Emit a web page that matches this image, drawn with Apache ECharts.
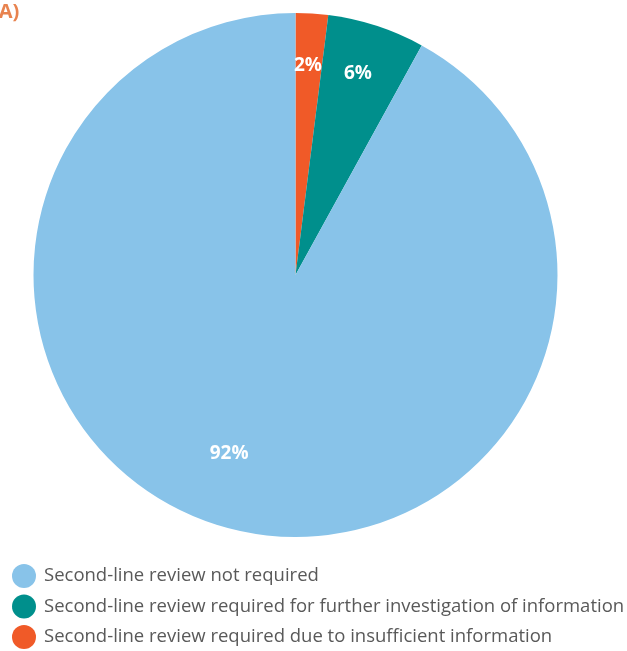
<!DOCTYPE html>
<html>
<head>
<meta charset="utf-8">
<script src="https://cdn.jsdelivr.net/npm/echarts@6/dist/echarts.min.js"></script>
<style>
  html, body { margin: 0; padding: 0; background: #ffffff; }
  #chart { width: 627px; height: 651px; }
</style>
</head>
<body>
<div id="chart"></div>
<script>
// Review outcome shares, clockwise from 12 o'clock
const categories = [
  'Second-line review required due to insufficient information',
  'Second-line review required for further investigation of information',
  'Second-line review not required'
];
const shares = [2, 6, 92];
const sliceColors = ['#F05A28', '#008F8C', '#88C3E9'];
// Legend lists the categories in reverse order
const legendOrder = [categories[2], categories[1], categories[0]];
// Nudges that move each percentage label toward the rim
const labelOffsets = [[4, -76], [21, -74], [-33, 49]];

const chart = echarts.init(document.getElementById('chart'), null, { renderer: 'canvas' });

const data = categories.map((name, i) => ({
  name: name,
  value: shares[i],
  itemStyle: { color: sliceColors[i] },
  label: { offset: labelOffsets[i] }
}));

chart.setOption({
  animation: false,
  title: {
    text: '(A)',
    left: -13,
    top: -3,
    textStyle: { color: '#E8834F', fontSize: 20, fontWeight: 'bold', fontFamily: 'Open Sans' }
  },
  legend: {
    data: legendOrder,
    orient: 'vertical',
    left: 12,
    top: 564,
    height: 90,
    padding: 0,
    icon: 'circle',
    itemWidth: 24,
    itemHeight: 24,
    itemGap: 6.5,
    textStyle: { color: '#595959', fontSize: 18.5, fontFamily: 'Open Sans', padding: [0, 0, 0, 3] }
  },
  series: [{
    type: 'pie',
    center: [295.5, 275],
    radius: [0, 262],
    startAngle: 90,
    clockwise: true,
    silent: true,
    data: data,
    label: {
      show: true,
      position: 'inside',
      formatter: '{c}%',
      color: '#ffffff',
      fontSize: 19,
      fontWeight: 'bold',
      fontFamily: 'Open Sans'
    },
    labelLine: { show: false }
  }]
});
</script>
</body>
</html>
